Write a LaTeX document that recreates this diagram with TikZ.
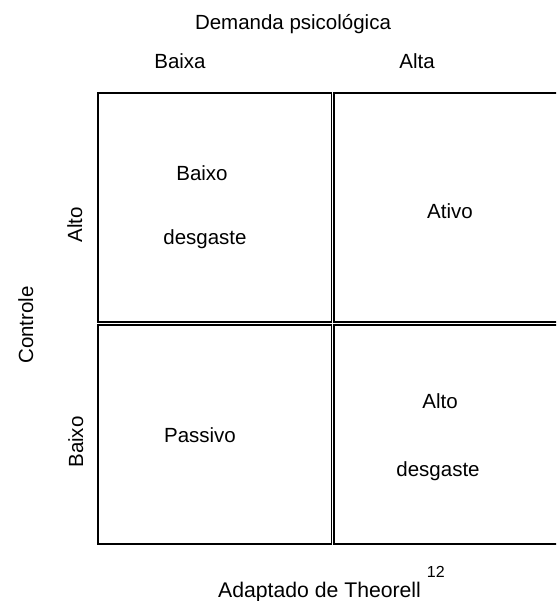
\documentclass[tikz,border=0pt]{standalone}
\usepackage{fontspec}
\setmainfont{Liberation Sans}
\begin{document}
\begin{tikzpicture}[x=1pt,y=-1pt,
  cell/.style={draw=black, line width=1.2pt, inner sep=0pt, rectangle},
  lbl/.style={inner sep=0pt, anchor=base, font=\fontsize{20.5}{24}\selectfont},
  vlbl/.style={lbl, rotate=90}]
\useasboundingbox (0,0) rectangle (556,601);
\clip (0,0) rectangle (556,601);
% cells
\node[cell, minimum width=233.5pt, minimum height=229pt] (tl) at (214.75,207.5) {};
\node[cell, minimum width=246pt, minimum height=229pt] (tr) at (457,207.5) {};
\node[cell, minimum width=233.5pt, minimum height=219pt] (bl) at (214.75,434.5) {};
\node[cell, minimum width=246pt, minimum height=219pt] (br) at (457,434.5) {};
% headings
\node[lbl] (dem) at (293,30) {Demanda psicológica};
\node[lbl] (baixa) at (180,68.5) {Baixa};
\node[lbl] (alta) at (417,68.5) {Alta};
\node[vlbl] (ctrl) at (33,325) {Controle};
\node[vlbl] (altoC) at (82,225) {Alto};
\node[vlbl] (baixoC) at (83,442) {Baixo};
% cell texts
\node[lbl] (t1) at (202,181) {Baixo};
\node[lbl] (t2) at (205,244) {desgaste};
\node[lbl] (t3) at (450,219) {Ativo};
\node[lbl] (t4) at (200,442) {Passivo};
\node[lbl] (t5) at (440,408) {Alto};
\node[lbl] (t6) at (438,476) {desgaste};
% source
\node[lbl, anchor=base west, font=\fontsize{21.2}{24}\selectfont] (src) at (218,597) {Adaptado de Theorell\kern6pt\raisebox{20pt}{\fontsize{16}{18}\selectfont 12}};
\end{tikzpicture}
\end{document}
